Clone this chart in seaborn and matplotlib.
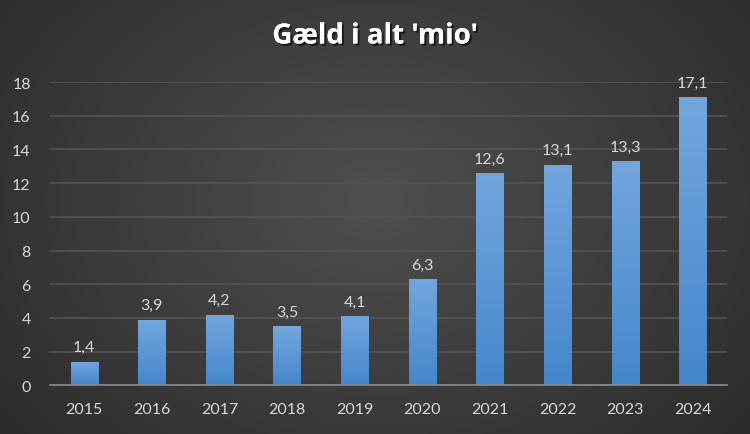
import numpy as np
import pandas as pd
import matplotlib
matplotlib.use("Agg")
import matplotlib.pyplot as plt
import matplotlib.patheffects as pe
import seaborn as sns

years = ["2015", "2016", "2017", "2018", "2019", "2020", "2021", "2022", "2023", "2024"]
debt = [1.4, 3.9, 4.2, 3.5, 4.1, 6.3, 12.6, 13.1, 13.3, 17.1]
title = "Gæld i alt 'mio'"

df = pd.DataFrame({"year": years, "debt": debt})

sns.set_theme(style="dark")
plt.rcParams["font.family"] = ["Lato", "DejaVu Sans"]

fig = plt.figure(figsize=(7.5, 4.35), dpi=100)

# radial dark background
bg = fig.add_axes([0, 0, 1, 1], zorder=-10)
yy, xx = np.mgrid[0:435, 0:750]
r = np.sqrt(((xx - 375) / 560) ** 2 + ((yy - 200) / 420) ** 2)
shade = np.clip(0.31 - 0.16 * r, 0.14, 0.31)
bg.imshow(np.dstack([shade] * 3), aspect="auto", extent=[0, 1, 0, 1])
bg.axis("off")

ax = fig.add_axes([0.067, 0.112, 0.902, 0.697])
ax.set_facecolor("none")
sns.barplot(data=df, x="year", y="debt", color="#5b9bd5", width=0.4, linewidth=0,
            edgecolor="none", ax=ax, zorder=3)

# vertical gradient inside each bar
grad = np.linspace(0, 1, 100).reshape(-1, 1)
top = np.array([0.45, 0.65, 0.87])
bot = np.array([0.27, 0.53, 0.80])
cols = top * (1 - grad[..., None]) + bot * grad[..., None]
for p in ax.patches:
    x0, y0 = p.get_x(), p.get_y()
    w, h = p.get_width(), p.get_height()
    im = ax.imshow(cols, extent=[x0, x0 + w, y0, y0 + h], aspect="auto", zorder=4)
    im.set_clip_path(p)
    ax.text(x0 + w / 2, h + 0.45, f"{h:.1f}".replace(".", ","), ha="center", va="bottom",
            color="#d9d9d9", fontsize=11.5, zorder=5)

ax.set_xlim(-0.5, 9.5)
ax.set_ylim(0, 18)
ax.set_yticks(range(0, 19, 2))
ax.yaxis.grid(True, color="#555555", linewidth=1.2, zorder=0)
ax.xaxis.grid(False)
for s in ["top", "right", "left"]:
    ax.spines[s].set_visible(False)
ax.spines["bottom"].set_color("#8a8a8a")
ax.spines["bottom"].set_linewidth(1.2)
ax.spines["bottom"].set_zorder(6)
ax.tick_params(axis="both", colors="#d9d9d9", labelsize=11.5, length=0)
ax.tick_params(axis="x", pad=12)
ax.tick_params(axis="y", pad=14)
ax.set_xlabel("")
ax.set_ylabel("")

fig.text(0.5, 0.915, title, ha="center", va="center", color="white", fontsize=20,
         fontweight="bold", family=["Open Sans", "DejaVu Sans"],
         path_effects=[pe.withSimplePatchShadow(offset=(1.5, -1.5), shadow_rgbFace="black", alpha=0.6),
                       pe.Normal()])

fig.savefig("out.png", dpi=100)
